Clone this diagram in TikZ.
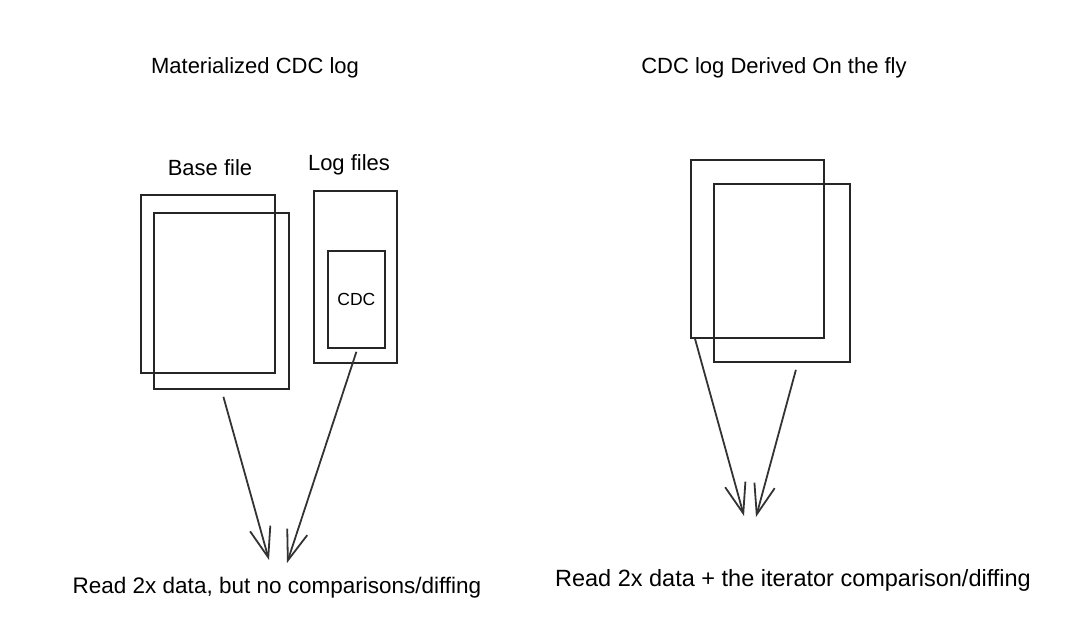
\documentclass[tikz,border=0pt]{standalone}
\usepackage{fontspec}
\setmainfont{Liberation Sans}
\usetikzlibrary{arrows.meta}

\begin{document}
\begin{tikzpicture}[x=1pt, y=-1pt,
	sheet/.style={draw=black!85, line width=1.8pt, inner sep=0pt, anchor=north west},
	arr/.style={draw=black!80, line width=1.8pt, -{Straight Barb[length=30pt, width=21pt, line width=1.8pt]}},
	title/.style={font=\fontsize{22}{24}\selectfont},
	label/.style={font=\fontsize{22}{24}\selectfont},
	note/.style={font=\fontsize{22.5}{25}\selectfont}]
	
	\useasboundingbox (0,0) rectangle (1065,638);
	
	
	\node[title] (tmat) at (255,68) {Materialized CDC log};
	\node[title] (tder) at (774,68) {CDC log Derived On the fly};
	
	
	\node[sheet, minimum width=134pt, minimum height=178pt] (base1) at (140,194) {};
	\node[sheet, minimum width=135pt, minimum height=176pt] (base2) at (153,212) {};
	\node[label] (lbase) at (210,168) {Base file};
	
	\node[sheet, minimum width=83pt, minimum height=172pt] (log) at (313,190) {};
	\node[sheet, minimum width=57pt, minimum height=97pt] (cdc) at (327,250) {};
	\node[font=\fontsize{17.5}{19}\selectfont] (lcdc) at (cdc.center) {CDC};
	\node[label] (llog) at (349,165) {Log files};
	
	
	\node[sheet, minimum width=133pt, minimum height=178pt] (der1) at (690,159) {};
	\node[sheet, minimum width=136pt, minimum height=178pt] (der2) at (713,183) {};
	
	
	\coordinate (tipA) at (269,560);
	\coordinate (tipB) at (287,563);
	\coordinate (tipC) at (744,516);
	\coordinate (tipD) at (756,517);
	
	\draw[arr] ([xshift=2pt, yshift=-7pt]base2.south) -- (tipA);
	\draw[arr] ([yshift=-3pt]cdc.south) -- (tipB);
	\draw[arr] ([xshift=5pt]der1.south west) -- (tipC);
	\draw[arr] ([xshift=14pt, yshift=-7pt]der2.south) -- (tipD);
	
	
	\node[note] (nmat) at (277,588) {Read 2x data, but no comparisons/diffing};
	\node[note, font=\fontsize{23.5}{26}\selectfont] (nder) at (793,580) {Read 2x data + the iterator comparison/diffing};
\end{tikzpicture}
\end{document}
